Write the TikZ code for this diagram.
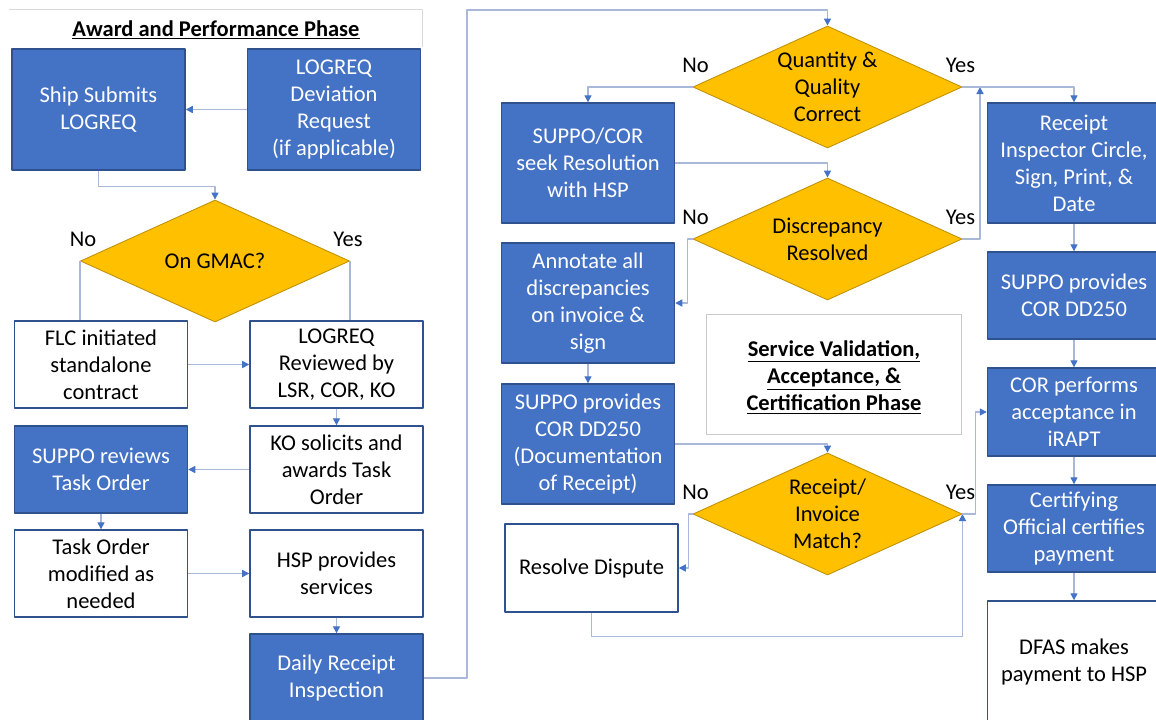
\documentclass[tikz,border=0pt]{standalone}
\usepackage{fontspec}
\setmainfont{Carlito}
\usetikzlibrary{arrows.meta,shapes.geometric,calc}
\definecolor{boxblue}{HTML}{4472C4}
\definecolor{boxedge}{HTML}{2F528F}
\definecolor{gold}{HTML}{FFC000}
\definecolor{goldedge}{HTML}{BF9000}
\definecolor{flowline}{HTML}{A9B8D8}
\definecolor{tipblue}{HTML}{4472C4}
\definecolor{framegray}{HTML}{C9C9C9}

\begin{document}
\begin{tikzpicture}[x=0.025cm,y=-0.025cm,line join=round,font=\fontsize{16}{19.2}\selectfont]
\tikzset{
  bluebox/.style={draw=boxedge,line width=1pt,fill=boxblue,text=white,align=center,inner sep=2pt,minimum width=4.325cm},
  whitebox/.style={draw=boxedge,line width=1pt,fill=white,align=center,inner sep=2pt,minimum width=4.325cm},
  decision/.style={diamond,draw=goldedge,line width=0.6pt,fill=gold,inner sep=0pt,minimum width=6.725cm,minimum height=3.05cm},
  flow/.style={draw=flowline,line width=1pt,-{Triangle[color=tipblue,length=5pt,width=5pt]}},
  plainflow/.style={draw=flowline,line width=1pt},
  lbl/.style={inner sep=0pt},
  heading/.style={font=\fontsize{16}{19.5}\selectfont\bfseries,align=center}
}
\useasboundingbox[fill=white] (0,0) rectangle (1156,719);

\draw[framegray!70,line width=0.6pt] (9,9) -| (422,47);
\node[heading] (title) at (216,30) {\underline{Award and Performance Phase}};

\node[bluebox,minimum height=3.025cm] (ship) at (98.5,109.5) {Ship Submits\\LOGREQ};
\node[bluebox,minimum height=3.025cm] (dev) at (334,109.5) {LOGREQ\\Deviation\\Request\\(if applicable)};
\node[decision] (gmac) at (215,261) {};
\node[lbl] (gmac-t) at (gmac) {On GMAC?};
\node[whitebox,minimum height=2.175cm] (flc) at (101,364.5) {FLC initiated\\standalone\\contract};
\node[whitebox,minimum height=2.175cm] (rev) at (336.5,364.5) {LOGREQ\\Reviewed by\\LSR, COR, KO};
\node[whitebox,minimum height=2.175cm] (ko) at (336.5,469.5) {KO solicits and\\awards Task\\Order};
\node[bluebox,minimum height=2.175cm] (srev) at (101,469.5) {SUPPO reviews\\Task Order};
\node[whitebox,minimum height=2.175cm] (tom) at (101,573.5) {Task Order\\modified as\\needed};
\node[whitebox,minimum height=2.175cm] (hsp) at (336.5,573.5) {HSP provides\\services};
\node[bluebox,minimum height=2.2cm] (daily) at (336.5,678) {Daily Receipt\\Inspection};

\node[decision] (qq) at (827.5,87) {};
\node[lbl,align=center] (qq-t) at (qq) {Quantity \&\\Quality\\Correct};
\node[bluebox,minimum height=3cm] (res) at (588,163) {SUPPO/COR\\seek Resolution\\with HSP};
\node[decision] (disc) at (827.5,239) {};
\node[lbl,align=center] (disc-t) at (disc) {Discrepancy\\Resolved};
\node[bluebox,minimum height=3cm] (anno) at (588,303) {Annotate all\\discrepancies\\on invoice \&\\sign};
\node[bluebox,minimum height=3cm] (dd) at (588,444) {SUPPO provides\\COR DD250\\(Documentation\\of Receipt)};
\node[decision] (match) at (827.5,514) {};
\node[lbl,align=center] (match-t) at (match) {Receipt/\\Invoice\\Match?};
\node[whitebox,minimum height=2.2cm] (disp) at (591.5,568) {Resolve Dispute};
\draw[framegray,line width=0.6pt] (706,314) rectangle (961,434);
\node[heading] (svc) at (834,377) {\underline{Service Validation,}\\\underline{Acceptance, \&}\\\underline{Certification Phase}};

\node[bluebox,minimum height=3cm] (insp) at (1074,163) {Receipt\\Inspector Circle,\\Sign, Print, \&\\Date};
\node[bluebox,minimum height=2.175cm] (cordd) at (1074,295.5) {SUPPO provides\\COR DD250};
\node[bluebox,minimum height=2.2cm] (irapt) at (1074,412) {COR performs\\acceptance in\\iRAPT};
\node[bluebox,minimum height=2.175cm] (cert) at (1074,528.5) {Certifying\\Official certifies\\payment};
\node[whitebox,minimum height=3.05cm] (dfas) at (1074,662) {DFAS makes\\payment to HSP};

\foreach \d in {gmac,qq,disc,match}{
  \node[lbl] (\d-no) at ($(\d.west)+(3,-22)$) {No};
  \node[lbl] (\d-yes) at ($(\d.east)+(-2,-22)$) {Yes};
}

\coordinate (loopup) at (467,10);
\coordinate (yesjoin) at (980,87);

\draw[flow] (dev) -- (ship);
\draw[flow] (ship.south) -- ++(0,16) -| (gmac.north);
\draw[plainflow] (gmac.west) -- (gmac.west |- flc.north);
\draw[plainflow] (gmac.east) -- (gmac.east |- rev.north);
\draw[flow] (flc) -- (rev);
\draw[flow] (rev) -- (ko);
\draw[flow] (ko) -- (srev);
\draw[flow] (srev) -- (tom);
\draw[flow] (tom) -- (hsp);
\draw[flow] (hsp) -- (daily);
\draw[flow] (daily.east) -| (loopup) -| (qq.north);
\draw[flow] (qq.west) -| (res.north);
\draw[flow] (res.east) -| (disc.north);
\draw[flow] (disc.west) -- ++(-5,0) |- (anno.east);
\draw[flow] (anno) -- (dd);
\draw[flow] (dd.east) -| (match.north);
\draw[flow] (match.west) -- ++(-4,0) |- (disp.east);
\draw[flow] (disp.south) -- ++(0,24) -| (match.east);
\draw[flow] (match.east) -- ++(13,0) |- (irapt.west);
\draw[flow] (disc.east) -| (yesjoin);
\draw[flow] (qq.east) -| (insp.north);
\draw[flow] (insp) -- (cordd);
\draw[flow] (cordd) -- (irapt);
\draw[flow] (irapt) -- (cert);
\draw[flow] (cert) -- (dfas);
\end{tikzpicture}
\end{document}
